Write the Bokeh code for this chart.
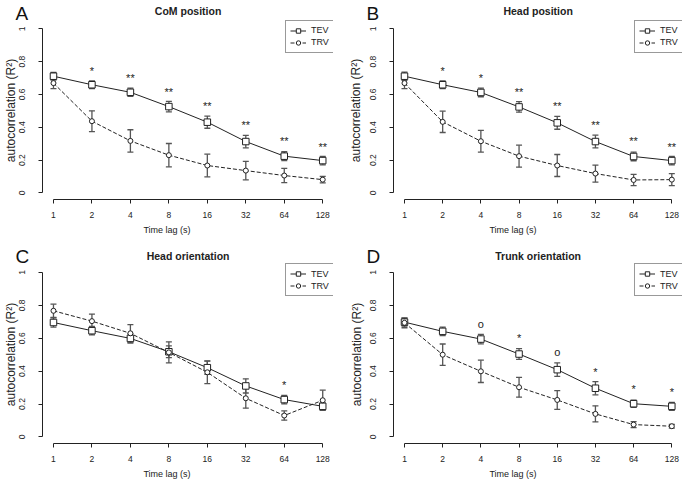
import math
from bokeh.plotting import figure
from bokeh.models import (Range1d, FixedTicker, ColumnDataSource, Whisker, TeeHead,
                          Legend, LegendItem)
from bokeh.layouts import row, column
from bokeh.embed import file_html
from bokeh.resources import INLINE
from bokeh.core.properties import value

# ---------------- data ----------------
lags = [1, 2, 4, 8, 16, 32, 64, 128]
lag_labels = ["1", "2", "4", "8", "16", "32", "64", "128"]
y_ticks = [0, 0.2, 0.4, 0.6, 0.8, 1]
y_tick_labels = ["0", "0.2", "0.4", "0.6", "0.8", "1"]

panel_letters = ["A", "B", "C", "D"]
panel_titles = ["CoM position", "Head position", "Head orientation", "Trunk orientation"]
series_names = ["TEV", "TRV"]

# A: CoM position
tev_A = [0.711, 0.659, 0.613, 0.526, 0.431, 0.313, 0.224, 0.197]
tev_A_err = [0.023, 0.023, 0.025, 0.032, 0.037, 0.038, 0.027, 0.026]
trv_A = [0.669, 0.437, 0.317, 0.230, 0.167, 0.136, 0.106, 0.081]
trv_A_err = [0.034, 0.063, 0.068, 0.071, 0.069, 0.056, 0.043, 0.020]
sig_A_lag = [2, 4, 8, 16, 32, 64, 128]
sig_A_text = ["*", "**", "**", "**", "**", "**", "**"]
sig_A_y = [0.756, 0.715, 0.630, 0.543, 0.427, 0.330, 0.295]

# B: Head position
tev_B = [0.711, 0.659, 0.612, 0.524, 0.427, 0.313, 0.222, 0.197]
tev_B_err = [0.025, 0.023, 0.026, 0.032, 0.039, 0.039, 0.026, 0.026]
trv_B = [0.669, 0.433, 0.315, 0.224, 0.167, 0.118, 0.079, 0.081]
trv_B_err = [0.034, 0.065, 0.066, 0.067, 0.067, 0.052, 0.034, 0.037]
sig_B_lag = [2, 4, 8, 16, 32, 64, 128]
sig_B_text = ["*", "*", "**", "**", "**", "**", "**"]
sig_B_y = [0.756, 0.715, 0.630, 0.540, 0.427, 0.330, 0.295]

# C: Head orientation
tev_C = [0.696, 0.646, 0.599, 0.518, 0.421, 0.310, 0.227, 0.186]
tev_C_err = [0.028, 0.026, 0.028, 0.036, 0.040, 0.043, 0.026, 0.021]
trv_C = [0.767, 0.704, 0.630, 0.514, 0.393, 0.235, 0.130, 0.223]
trv_C_err = [0.040, 0.043, 0.053, 0.064, 0.069, 0.060, 0.028, 0.061]
sig_C_lag = [64]
sig_C_text = ["*"]
sig_C_y = [0.328]

# D: Trunk orientation
tev_D = [0.698, 0.642, 0.595, 0.504, 0.409, 0.296, 0.202, 0.186]
tev_D_err = [0.024, 0.026, 0.029, 0.033, 0.041, 0.040, 0.022, 0.024]
trv_D = [0.694, 0.500, 0.399, 0.302, 0.225, 0.140, 0.075, 0.065]
trv_D_err = [0.030, 0.065, 0.068, 0.060, 0.057, 0.049, 0.018, 0.011]
sig_D_lag = [4, 8, 16, 32, 64, 128]
sig_D_text = ["o", "*", "o", "*", "*", "*"]
sig_D_y = [0.700, 0.615, 0.530, 0.410, 0.303, 0.287]

# ---------------- style / layout ----------------
FONT = "Liberation Sans"
INK = "#222222"
ERR = "#555555"
LOG_LO, LOG_HI = -0.28, 7.28      # R-style 4% padding around log2(1)..log2(128)
Y_LO, Y_HI = -0.04, 1.04           # R-style 4% padding around 0..1

# column geometry (px inside the figure): plot-region left/right
COLS = [dict(width=343, L0=42.2, R0=333, letter_x=15),
        dict(width=343, L0=50.3, R0=339, letter_x=23)]
# row geometry: plot-region top/bottom
ROWS = [dict(height=242, T0=21.7, B0=199, title_y=10, letter_mid=12.5),
        dict(height=243, T0=23.4, B0=201, title_y=13, letter_mid=13.5)]


def make_panel(letter, title, tev, tev_err, trv, trv_err, sig_lag, sig_text, sig_y,
               col, rw, ylab_standoff):
    W, L0, R0 = col["width"], col["L0"], col["R0"]
    H, T0, B0 = rw["height"], rw["T0"], rw["B0"]
    kx = (LOG_HI - LOG_LO) / (R0 - L0)
    ky = (Y_HI - Y_LO) / (B0 - T0)

    def xd(px):
        return 2 ** (LOG_LO + (px - L0) * kx)

    def yd(py):
        return Y_HI - (py - T0) * ky

    p = figure(width=W, height=H, x_axis_type="log",
               x_range=Range1d(xd(0), 2 ** LOG_HI), y_range=Range1d(Y_LO, yd(0)),
               output_backend="svg", toolbar_location=None,
               min_border_left=0, min_border_right=W - R0,
               min_border_top=0, min_border_bottom=H - B0)
    p.outline_line_color = None
    p.xgrid.grid_line_color = None
    p.ygrid.grid_line_color = None
    p.background_fill_color = "white"
    p.border_fill_color = "white"

    for ax in (p.xaxis[0], p.yaxis[0]):
        ax.axis_line_color = INK
        ax.major_tick_line_color = INK
        ax.minor_tick_line_color = None
        ax.major_tick_in = 0
        ax.major_tick_out = 4
        ax.major_label_text_font = FONT
        ax.major_label_text_font_size = "8.5px"
        ax.major_label_text_color = INK
        ax.axis_label_text_font = FONT
        ax.axis_label_text_font_style = "normal"
        ax.axis_label_text_color = INK

    xa = p.xaxis[0]
    xa.ticker = FixedTicker(ticks=lags)
    xa.major_label_overrides = {k: v for k, v in zip(lags, lag_labels)}
    xa.bounds = (lags[0], lags[-1])
    xa.major_label_standoff = 8
    xa.axis_label = "Time lag (s)"
    xa.axis_label_text_font_size = "9px"
    xa.axis_label_standoff = 4

    ya = p.yaxis[0]
    ya.fixed_location = 2 ** LOG_LO
    ya.ticker = FixedTicker(ticks=y_ticks)
    ya.major_label_overrides = {k: v for k, v in zip(y_ticks, y_tick_labels)}
    ya.bounds = (y_ticks[0], y_ticks[-1])
    ya.major_label_orientation = "vertical"
    ya.major_label_standoff = 14
    ya.axis_label = "autocorrelation (R²)"
    ya.axis_label_text_font_size = "12px"
    ya.axis_label_standoff = ylab_standoff

    src = ColumnDataSource(dict(
        x=lags, tev=tev, trv=trv,
        tev_lo=[v - e for v, e in zip(tev, tev_err)],
        tev_hi=[v + e for v, e in zip(tev, tev_err)],
        trv_lo=[v - e for v, e in zip(trv, trv_err)],
        trv_hi=[v + e for v, e in zip(trv, trv_err)],
    ))

    l_tev = p.line("x", "tev", source=src, line_color=INK, line_width=1)
    l_trv = p.line("x", "trv", source=src, line_color=INK, line_width=1, line_dash="4 2")
    s_tev = p.scatter("x", "tev", source=src, marker="square", size=6.5,
                      fill_color="white", line_color=INK, line_width=1)
    s_trv = p.scatter("x", "trv", source=src, marker="circle", size=5,
                      fill_color="white", line_color=INK, line_width=1)

    for lo, hi in (("tev_lo", "tev_hi"), ("trv_lo", "trv_hi")):
        w = Whisker(base="x", lower=lo, upper=hi, source=src, line_color=ERR, line_width=1.3,
                    upper_head=TeeHead(size=6, line_color=ERR, line_width=1.3),
                    lower_head=TeeHead(size=6, line_color=ERR, line_width=1.3))
        p.add_layout(w)

    p.text(x=sig_lag, y=sig_y, text=sig_text, text_font=value(FONT),
           text_font_size="11px", text_color=INK, text_align="center",
           text_baseline="middle", y_offset=2)

    # panel title and panel letter (inside the extended frame)
    p.text(x=[2 ** ((LOG_LO + LOG_HI) / 2)], y=[yd(rw["title_y"])], text=[title],
           text_font=value(FONT), text_font_size="10.5px", text_font_style="bold",
           text_color=INK, text_align="center", text_baseline="middle")
    p.text(x=[xd(col["letter_x"])], y=[yd(rw["letter_mid"])], text=[letter],
           text_font=value(FONT), text_font_size="19px",
           text_color="#111111", text_align="left", text_baseline="middle")

    leg_w, leg_bottom_px = 48, T0 + 31
    legend = Legend(items=[LegendItem(label=series_names[0], renderers=[l_tev, s_tev]),
                           LegendItem(label=series_names[1], renderers=[l_trv, s_trv])],
                    location=(R0 - leg_w, B0 - leg_bottom_px), margin=0, padding=4, spacing=1,
                    glyph_width=16, glyph_height=11, label_height=11, label_width=18,
                    label_standoff=5,
                    label_text_font=FONT, label_text_font_size="9px", label_text_color=INK,
                    border_line_color="#333333", border_line_width=1,
                    background_fill_color="white", background_fill_alpha=1)
    p.add_layout(legend)
    return p


pA = make_panel(panel_letters[0], panel_titles[0], tev_A, tev_A_err, trv_A, trv_A_err,
                sig_A_lag, sig_A_text, sig_A_y, COLS[0], ROWS[0], -2)
pB = make_panel(panel_letters[1], panel_titles[1], tev_B, tev_B_err, trv_B, trv_B_err,
                sig_B_lag, sig_B_text, sig_B_y, COLS[1], ROWS[0], 4)
pC = make_panel(panel_letters[2], panel_titles[2], tev_C, tev_C_err, trv_C, trv_C_err,
                sig_C_lag, sig_C_text, sig_C_y, COLS[0], ROWS[1], -2)
pD = make_panel(panel_letters[3], panel_titles[3], tev_D, tev_D_err, trv_D, trv_D_err,
                sig_D_lag, sig_D_text, sig_D_y, COLS[1], ROWS[1], 3)

layout = column(row(pA, pB), row(pC, pD))
open("out.html", "w").write(file_html(layout, INLINE))
